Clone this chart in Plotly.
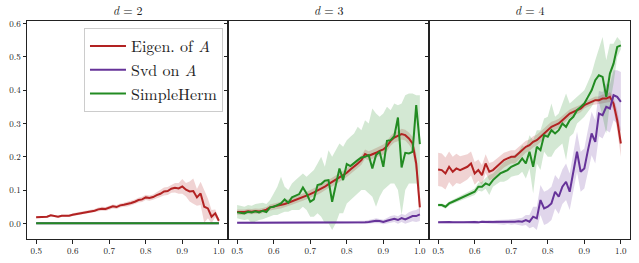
import plotly.graph_objects as go
from plotly.subplots import make_subplots

x = [round(0.50 + 0.01 * i, 2) for i in range(51)]

panel_titles = ["<i>d</i> = 2", "<i>d</i> = 3", "<i>d</i> = 4"]
series_names = ["Eigen. of <i>A</i>", "Svd on <i>A</i>", "SimpleHerm"]
series_colors = ["#b22222", "#663399", "#228b22"]
band_colors = ["rgba(178,34,34,0.2)", "rgba(102,51,153,0.2)", "rgba(34,139,34,0.2)"]
x_ticks = [0.5, 0.6, 0.7, 0.8, 0.9, 1.0]
y_ticks = [0.0, 0.1, 0.2, 0.3, 0.4, 0.5, 0.6]

# ---------------- d = 2 ----------------
d2_eigen = [0.018, 0.019, 0.019, 0.020, 0.024, 0.021, 0.020, 0.023, 0.022, 0.023,
            0.026, 0.028, 0.030, 0.032, 0.033, 0.035, 0.038, 0.042, 0.044, 0.043,
            0.047, 0.051, 0.049, 0.054, 0.056, 0.058, 0.061, 0.065, 0.070, 0.072,
            0.078, 0.076, 0.079, 0.085, 0.089, 0.096, 0.097, 0.104, 0.107, 0.105,
            0.111, 0.101, 0.096, 0.097, 0.078, 0.090, 0.050, 0.045, 0.020, 0.030,
            0.008]
d2_eigen_w = [0.003, 0.003, 0.003, 0.003, 0.003, 0.003, 0.003, 0.003, 0.003, 0.003,
              0.004, 0.004, 0.004, 0.005, 0.005, 0.005, 0.005, 0.006, 0.006, 0.006,
              0.006, 0.006, 0.006, 0.006, 0.006, 0.007, 0.007, 0.007, 0.007, 0.008,
              0.008, 0.008, 0.008, 0.009, 0.010, 0.012, 0.012, 0.012, 0.014, 0.016,
              0.022, 0.020, 0.030, 0.038, 0.025, 0.035, 0.048, 0.030, 0.020, 0.012,
              0.008]
d2_svd = [0.0] * 51
d2_svd_w = [0.0] * 51
d2_simple = [0.0] * 51
d2_simple_w = [0.0] * 51

# ---------------- d = 3 ----------------
d3_eigen = [0.034, 0.033, 0.034, 0.036, 0.035, 0.037, 0.036, 0.038, 0.041, 0.048,
            0.050, 0.052, 0.055, 0.058, 0.062, 0.066, 0.070, 0.075, 0.079, 0.083,
            0.088, 0.093, 0.098, 0.104, 0.110, 0.118, 0.124, 0.130, 0.138, 0.145,
            0.152, 0.162, 0.170, 0.180, 0.190, 0.208, 0.203, 0.207, 0.212, 0.218,
            0.222, 0.232, 0.248, 0.258, 0.262, 0.268, 0.265, 0.255, 0.240, 0.180,
            0.048]
d3_eigen_w = [0.008, 0.008, 0.008, 0.008, 0.008, 0.008, 0.008, 0.008, 0.008, 0.009,
              0.009, 0.009, 0.010, 0.010, 0.010, 0.010, 0.011, 0.011, 0.011, 0.011,
              0.012, 0.012, 0.012, 0.012, 0.012, 0.012, 0.013, 0.013, 0.013, 0.013,
              0.013, 0.013, 0.014, 0.014, 0.014, 0.014, 0.014, 0.014, 0.015, 0.015,
              0.015, 0.015, 0.015, 0.015, 0.015, 0.016, 0.016, 0.018, 0.020, 0.030,
              0.035]
d3_svd = [0.002, 0.002, 0.002, 0.002, 0.002, 0.002, 0.002, 0.001, 0.002, 0.002,
          0.002, 0.002, 0.002, 0.002, 0.002, 0.002, 0.002, 0.002, 0.002, 0.002,
          0.002, 0.002, 0.002, 0.002, 0.002, 0.002, 0.003, 0.002, 0.002, 0.002,
          0.002, 0.003, 0.002, 0.003, 0.003, 0.003, 0.004, 0.006, 0.008, 0.007,
          0.004, 0.008, 0.012, 0.014, 0.010, 0.016, 0.012, 0.018, 0.022, 0.022,
          0.027]
d3_svd_w = [0.003, 0.003, 0.003, 0.003, 0.003, 0.003, 0.003, 0.003, 0.003, 0.003,
            0.003, 0.003, 0.003, 0.003, 0.003, 0.003, 0.003, 0.003, 0.003, 0.003,
            0.003, 0.003, 0.003, 0.003, 0.003, 0.004, 0.004, 0.004, 0.004, 0.004,
            0.004, 0.004, 0.004, 0.004, 0.005, 0.005, 0.005, 0.006, 0.007, 0.007,
            0.007, 0.008, 0.010, 0.010, 0.011, 0.012, 0.013, 0.015, 0.016, 0.018,
            0.020]
d3_simple = [0.033, 0.032, 0.030, 0.035, 0.033, 0.036, 0.033, 0.038, 0.034, 0.048,
             0.050, 0.055, 0.060, 0.072, 0.062, 0.078, 0.082, 0.088, 0.108, 0.090,
             0.065, 0.072, 0.115, 0.118, 0.128, 0.130, 0.065, 0.112, 0.165, 0.130,
             0.178, 0.172, 0.182, 0.190, 0.198, 0.200, 0.205, 0.165, 0.205, 0.215,
             0.170, 0.248, 0.250, 0.262, 0.318, 0.168, 0.212, 0.210, 0.215, 0.355,
             0.238]
d3_simple_lo = [0.015, 0.012, 0.010, 0.012, 0.000, 0.005, 0.010, 0.012, 0.015, 0.020,
                0.025, 0.025, 0.030, 0.035, 0.035, 0.040, 0.040, 0.040, 0.050, 0.040,
                0.020, 0.020, 0.030, 0.020, 0.000, 0.000, -0.020, 0.000, 0.030, 0.030,
                0.060, 0.070, 0.080, 0.090, 0.100, 0.100, 0.090, 0.080, 0.050, 0.080,
                0.100, 0.110, 0.120, 0.120, 0.100, 0.025, 0.100, 0.120, 0.120, 0.120,
                0.100]
d3_simple_hi = [0.055, 0.052, 0.050, 0.055, 0.053, 0.058, 0.060, 0.062, 0.058, 0.070,
                0.090, 0.110, 0.140, 0.110, 0.100, 0.120, 0.130, 0.140, 0.150, 0.140,
                0.150, 0.160, 0.180, 0.200, 0.170, 0.220, 0.200, 0.220, 0.240, 0.230,
                0.250, 0.260, 0.270, 0.290, 0.280, 0.310, 0.300, 0.345, 0.330, 0.320,
                0.330, 0.350, 0.340, 0.360, 0.355, 0.360, 0.385, 0.390, 0.390, 0.385,
                0.385]

# ---------------- d = 4 ----------------
d4_eigen = [0.162, 0.160, 0.150, 0.170, 0.155, 0.165, 0.160, 0.165, 0.170, 0.180,
            0.150, 0.160, 0.145, 0.180, 0.155, 0.160, 0.170, 0.180, 0.190, 0.195,
            0.200, 0.200, 0.210, 0.220, 0.230, 0.235, 0.245, 0.250, 0.260, 0.270,
            0.280, 0.290, 0.295, 0.300, 0.310, 0.320, 0.330, 0.335, 0.340, 0.345,
            0.355, 0.360, 0.365, 0.370, 0.370, 0.375, 0.375, 0.380, 0.360, 0.310,
            0.240]
d4_eigen_w = [0.050, 0.050, 0.048, 0.046, 0.045, 0.044, 0.042, 0.040, 0.038, 0.036,
              0.034, 0.032, 0.030, 0.028, 0.026, 0.025, 0.024, 0.023, 0.022, 0.021,
              0.020, 0.020, 0.019, 0.018, 0.018, 0.017, 0.017, 0.016, 0.016, 0.015,
              0.015, 0.015, 0.014, 0.014, 0.013, 0.013, 0.012, 0.012, 0.011, 0.011,
              0.010, 0.010, 0.010, 0.011, 0.011, 0.012, 0.012, 0.015, 0.020, 0.030,
              0.040]
d4_svd = [0.003, 0.004, 0.003, 0.004, 0.003, 0.004, 0.003, 0.003, 0.004, 0.003,
          0.004, 0.003, 0.005, 0.004, 0.004, 0.003, 0.004, 0.004, 0.003, 0.005,
          0.004, 0.005, 0.006, 0.005, 0.010, 0.005, 0.020, 0.015, 0.070, 0.045,
          0.050, 0.060, 0.095, 0.080, 0.110, 0.125, 0.095, 0.155, 0.215, 0.155,
          0.165, 0.220, 0.270, 0.245, 0.330, 0.325, 0.350, 0.345, 0.385, 0.380,
          0.365]
d4_svd_w = [0.003, 0.003, 0.003, 0.003, 0.003, 0.003, 0.003, 0.003, 0.003, 0.003,
            0.004, 0.004, 0.004, 0.005, 0.005, 0.005, 0.006, 0.006, 0.007, 0.007,
            0.008, 0.008, 0.010, 0.012, 0.015, 0.020, 0.030, 0.035, 0.045, 0.050,
            0.050, 0.050, 0.050, 0.052, 0.052, 0.055, 0.055, 0.058, 0.060, 0.060,
            0.060, 0.062, 0.065, 0.065, 0.068, 0.070, 0.070, 0.072, 0.075, 0.080,
            0.090]
d4_simple = [0.055, 0.055, 0.050, 0.060, 0.065, 0.070, 0.075, 0.080, 0.085, 0.090,
             0.095, 0.110, 0.110, 0.120, 0.115, 0.130, 0.140, 0.150, 0.155, 0.160,
             0.170, 0.175, 0.180, 0.195, 0.180, 0.215, 0.170, 0.230, 0.220, 0.265,
             0.260, 0.280, 0.270, 0.280, 0.300, 0.290, 0.310, 0.320, 0.340, 0.350,
             0.360, 0.380, 0.400, 0.430, 0.445, 0.440, 0.380, 0.450, 0.480, 0.530,
             0.535]
d4_simple_w = [0.005, 0.005, 0.006, 0.006, 0.006, 0.007, 0.007, 0.008, 0.008, 0.009,
               0.010, 0.012, 0.014, 0.016, 0.030, 0.020, 0.022, 0.025, 0.030, 0.030,
               0.030, 0.032, 0.035, 0.040, 0.045, 0.050, 0.080, 0.050, 0.060, 0.050,
               0.060, 0.080, 0.050, 0.050, 0.060, 0.100, 0.050, 0.050, 0.040, 0.040,
               0.040, 0.045, 0.050, 0.060, 0.080, 0.120, 0.110, 0.090, 0.060, 0.030,
               0.012]

panels = [
    [(d2_eigen, d2_eigen_w), (d2_svd, d2_svd_w), (d2_simple, d2_simple_w)],
    [(d3_eigen, d3_eigen_w), (d3_svd, d3_svd_w), (d3_simple, (d3_simple_lo, d3_simple_hi))],
    [(d4_eigen, d4_eigen_w), (d4_svd, d4_svd_w), (d4_simple, d4_simple_w)],
]

fig = make_subplots(rows=1, cols=3, shared_yaxes=True, horizontal_spacing=0)

for p, series in enumerate(panels):
    col = p + 1
    for s, (mean, band) in enumerate(series):
        if isinstance(band, tuple):
            lo, hi = band
        else:
            lo = [m - w for m, w in zip(mean, band)]
            hi = [m + w for m, w in zip(mean, band)]
        fig.add_trace(go.Scatter(x=x + x[::-1], y=hi + lo[::-1], fill="toself",
                                 fillcolor=band_colors[s], line=dict(width=0),
                                 mode="lines", hoverinfo="skip", showlegend=False),
                      row=1, col=col)
    for s, (mean, band) in enumerate(series):
        fig.add_trace(go.Scatter(x=x, y=mean, mode="lines", name=series_names[s],
                                 line=dict(color=series_colors[s], width=2),
                                 showlegend=(p == 0)),
                      row=1, col=col)

font_family = "Latin Modern Roman"
axis_common = dict(showline=True, linecolor="#222", linewidth=1, mirror=True,
                   ticks="outside", ticklen=3.5, tickwidth=0.8, tickcolor="#222",
                   showgrid=False, zeroline=False, automargin=False,
                   tickfont=dict(family=font_family, size=9, color="#222"))

for i in range(1, 4):
    fig.update_xaxes(range=[0.475, 1.025], tickvals=x_ticks,
                     ticktext=[f"{v:.1f}" for v in x_ticks], row=1, col=i, **axis_common)
    fig.update_yaxes(range=[-0.047, 0.608], tickvals=y_ticks,
                     ticktext=[f"{v:.1f}" for v in y_ticks], row=1, col=i, **axis_common)
fig.update_yaxes(showticklabels=False, row=1, col=2)
fig.update_yaxes(showticklabels=False, row=1, col=3)

for i, t in enumerate(panel_titles):
    fig.add_annotation(text=t, x=(i + 0.5) / 3, y=1.0, xref="paper", yref="paper",
                       xanchor="center", yanchor="bottom", yshift=1, showarrow=False,
                       font=dict(family=font_family, size=12, color="#222"))

fig.update_layout(
    width=639, height=263,
    margin=dict(l=27, r=9, t=21, b=24, autoexpand=False),
    paper_bgcolor="white", plot_bgcolor="white",
    legend=dict(x=0.0945, y=0.968, xanchor="left", yanchor="top",
                bgcolor="rgba(255,255,255,0.85)", bordercolor="#cccccc", borderwidth=1,
                font=dict(family=font_family, size=16, color="#222"),
                tracegroupgap=0, itemwidth=36),
    showlegend=True,
)

fig.write_html("out.html", config={"displayModeBar": False},
               post_script="document.body.style.margin='0';")
